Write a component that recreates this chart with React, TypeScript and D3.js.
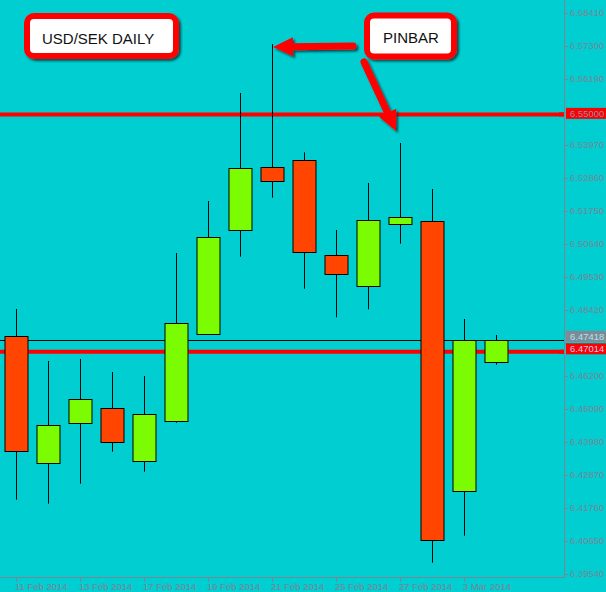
import React from "react";
import * as d3 from "d3";

// USD/SEK daily candles, 11 Feb - 4 Mar 2014
const dates = ["11 Feb", "12 Feb", "13 Feb", "14 Feb", "17 Feb", "18 Feb", "19 Feb", "20 Feb",
  "21 Feb", "24 Feb", "25 Feb", "26 Feb", "27 Feb", "28 Feb", "3 Mar", "4 Mar"];
const opens = [6.47535, 6.43263, 6.44609, 6.45114, 6.43331, 6.44676, 6.47613, 6.51101,
  6.5322, 6.53455, 6.5026, 6.49217, 6.51303, 6.51414, 6.42322, 6.46661];
const highs = [6.48454, 6.46705, 6.46772, 6.46334, 6.462, 6.50337, 6.52086, 6.55719,
  6.57367, 6.53724, 6.51111, 6.52692, 6.54037, 6.5249, 6.48117, 6.47579];
const lows = [6.42039, 6.41905, 6.42577, 6.43654, 6.42981, 6.44629, 6.4758, 6.50213,
  6.52197, 6.49136, 6.48174, 6.48443, 6.5065, 6.3992, 6.40828, 6.4658];
const closes = [6.43667, 6.44542, 6.45416, 6.4397, 6.44912, 6.47973, 6.50865, 6.53186,
  6.52749, 6.50361, 6.49621, 6.51437, 6.51538, 6.40674, 6.47401, 6.47418];

const xTickLabels = ["11 Feb 2014", "13 Feb 2014", "17 Feb 2014", "19 Feb 2014",
  "21 Feb 2014", "25 Feb 2014", "27 Feb 2014", "3 Mar 2014"];
const xTickDates = ["11 Feb", "13 Feb", "17 Feb", "19 Feb", "21 Feb", "25 Feb", "27 Feb", "3 Mar"];
const yTicks = [6.3954, 6.4065, 6.4176, 6.4287, 6.4398, 6.4509, 6.462, 6.4731, 6.4842,
  6.4953, 6.5064, 6.5175, 6.5286, 6.5397, 6.5508, 6.5619, 6.573, 6.5841];

const levels = [6.55, 6.47014];
const bid = 6.47418;

const W = 606;
const H = 592;
const plotRight = 564;
const plotBottom = 577;

const BG = "#00ced1";
const AXIS = "#7d8494";
const UP = "#7cfc00";
const DOWN = "#ff4500";
const FONT = "'Liberation Sans', Arial, sans-serif";

const x = d3.scalePoint<string>().domain(dates).range([16, 496]);
const y = d3.scaleLinear().domain([6.3954, 6.5841]).range([574, 13]);

const arrowHead = (tx: number, ty: number, fx: number, fy: number, len = 20, half = 9.5) => {
  const dx = tx - fx, dy = ty - fy;
  const d = Math.hypot(dx, dy);
  const ux = dx / d, uy = dy / d;
  const bx = tx - ux * len, by = ty - uy * len;
  const px = -uy * half, py = ux * half;
  return {
    head: `${tx},${ty} ${bx + px},${by + py} ${bx - px},${by - py}`,
    shaftEnd: [bx + ux * 3, by + uy * 3],
  };
};

export default function App() {
  const crisp = (v: number) => Math.round(v) + 0.5;

  // tick labels hidden behind the bid / level boxes are not drawn
  const covered = (t: number) => Math.abs(y(t) - y(bid)) < 6 || Math.abs(y(t) - y(levels[1])) < 6;

  const tip1 = { x: x("21 Feb")! + 1, y: y(highs[8]) + 3 };
  const a1 = arrowHead(tip1.x, tip1.y, 353, 46);
  const tip2 = { x: x("27 Feb")! - 4, y: y(highs[12]) - 12 };
  const a2 = arrowHead(tip2.x, tip2.y, 364, 62);

  return (
    <div style={{ position: "fixed", left: 0, top: 0 }}>
      <svg width={W} height={H} style={{ display: "block" }}>
        <defs>
          <filter id="sh" x="-20%" y="-20%" width="140%" height="140%">
            <feDropShadow dx="2" dy="2" stdDeviation="1.3" floodColor="#003030" floodOpacity="0.8" />
          </filter>
        </defs>
        <rect width={W} height={H} fill={BG} />

        {/* y axis ticks */}
        <g fontFamily={FONT} fontSize={9.5} fill={AXIS}>
          {yTicks.map((t) => (
            <g key={t}>
              <line x1={plotRight} x2={plotRight + 4} y1={crisp(y(t))} y2={crisp(y(t))} stroke={AXIS} />
              {!covered(t) && <text x={570} y={y(t)} dy="0.35em">{t.toFixed(5)}</text>}
            </g>
          ))}
        </g>

        {/* x axis ticks */}
        <g fontFamily={FONT} fontSize={9.5} fill={AXIS}>
          {xTickDates.map((d, i) => (
            <g key={d}>
              <line x1={crisp(x(d)!)} x2={crisp(x(d)!)} y1={plotBottom} y2={plotBottom + 5} stroke={AXIS} />
              <text x={x(d)! - 1} y={590}>{xTickLabels[i]}</text>
            </g>
          ))}
        </g>

        {/* horizontal levels */}
        <line x1={0} x2={plotRight} y1={crisp(y(bid))} y2={crisp(y(bid))} stroke="#000" strokeWidth={1} />
        {levels.map((l) => (
          <line key={l} x1={0} x2={plotRight} y1={y(l)} y2={y(l)} stroke="#ff0000" strokeWidth={4} />
        ))}

        {/* candles */}
        {dates.map((d, i) => {
          const cx = crisp(x(d)!);
          const top = y(Math.max(opens[i], closes[i]));
          const bot = y(Math.min(opens[i], closes[i]));
          return (
            <g key={d}>
              <line x1={cx} x2={cx} y1={y(highs[i])} y2={y(lows[i])} stroke="#000" strokeWidth={1} />
              <rect
                x={cx - 11.5}
                y={Math.round(top) + 0.5}
                width={23}
                height={Math.max(1, Math.round(bot) - Math.round(top))}
                fill={closes[i] >= opens[i] ? UP : DOWN}
                stroke="#000"
                strokeWidth={1}
              />
            </g>
          );
        })}

        {/* axis frame */}
        <line x1={plotRight + 0.5} x2={plotRight + 0.5} y1={0} y2={plotBottom + 1} stroke={AXIS} />
        <line x1={0} x2={plotRight + 1} y1={plotBottom + 0.5} y2={plotBottom + 0.5} stroke={AXIS} />

        {/* price labels on the axis */}
        <g fontFamily={FONT} fontSize={9.5}>
          <rect x={566} y={y(bid) - 9} width={40} height={11} fill="#808a96" />
          <text x={570} y={y(bid) - 3.5} dy="0.35em" fill="#a6e6f0">{bid.toFixed(5)}</text>
          {levels.map((l, i) => {
            const off = i === 0 ? -6.5 : -8.5;
            return (
              <g key={l}>
                <rect x={559} y={y(l) - 2} width={5} height={4} fill="#ff0000" />
                <rect x={566} y={y(l) + off} width={40} height={11} fill="#ff0000" />
                <text x={570} y={y(l) + off + 5.5} dy="0.35em" fill={i === 0 ? "#8a8ea8" : "#c8ccf0"}>
                  {l.toFixed(5)}
                </text>
              </g>
            );
          })}
        </g>

        {/* annotations */}
        <g filter="url(#sh)">
          <rect x={27} y={16} width={149} height={40} rx={7} fill="#fff" stroke="#ff0000" strokeWidth={6} />
          <rect x={367} y={15.5} width={87} height={41} rx={7} fill="#fff" stroke="#ff0000" strokeWidth={6} />
          <line x1={353} y1={46} x2={a1.shaftEnd[0]} y2={a1.shaftEnd[1]} stroke="#ff0000" strokeWidth={7} strokeLinecap="round" />
          <polygon points={a1.head} fill="#ff0000" />
          <line x1={364} y1={62} x2={a2.shaftEnd[0]} y2={a2.shaftEnd[1]} stroke="#ff0000" strokeWidth={7} strokeLinecap="round" />
          <polygon points={a2.head} fill="#ff0000" />
        </g>
        <g fontFamily={FONT} fontSize={15} fill="#111">
          <text x={42} y={43.5}>USD/SEK DAILY</text>
          <text x={383} y={42.5}>PINBAR</text>
        </g>
      </svg>
    </div>
  );
}
